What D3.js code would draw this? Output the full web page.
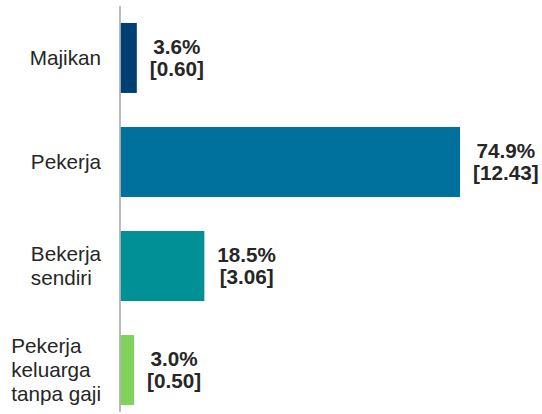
<!DOCTYPE html>
<html><head><meta charset="utf-8">
<script src="https://cdn.jsdelivr.net/npm/d3@7"></script>
<style>html,body{margin:0;padding:0;background:#fff}svg{display:block}</style>
</head><body>
<script>
const categories = [["Majikan"], ["Pekerja"], ["Bekerja", "sendiri"], ["Pekerja", "keluarga", "tanpa gaji"]];
const percents = [3.6, 74.9, 18.5, 3.0];
const millions = ["0.60", "12.43", "3.06", "0.50"];
const colors = ["#003f74", "#00709c", "#009096", "#7fd35b"];

const W = 542, H = 414;
const svg = d3.select("body").append("svg").attr("width", W).attr("height", H)
  .style("font-family", "'Liberation Sans', Arial, sans-serif");

const idx = d3.range(categories.length);
const x = d3.scaleLinear().domain([0, d3.max(percents)]).range([120.5, 460]);
const y = d3.scaleBand().domain(idx).range([6, 422]).paddingInner(0.327).paddingOuter(0.163);

svg.selectAll("rect.bar").data(idx).join("rect")
  .attr("x", x(0)).attr("y", i => y(i))
  .attr("width", i => x(percents[i]) - x(0)).attr("height", y.bandwidth())
  .attr("fill", i => colors[i]);

svg.append("line").attr("x1", 120).attr("x2", 120).attr("y1", 6).attr("y2", 412)
  .attr("stroke", "#a6a6a6").attr("stroke-width", 1.5);

const fs = 20.7, lhCat = 24, lhVal = 22, cap = 0.716 * fs;
const txtColor = "#262626";

// category labels
idx.forEach(i => {
  const lines = categories[i];
  const c = y(i) + y.bandwidth() / 2;
  const b1 = c - (lines.length - 1) * lhCat / 2 + cap / 2;
  const g = svg.append("g");
  const ts = lines.map((l, k) => g.append("text").attr("y", b1 + k * lhCat)
    .attr("font-size", fs).attr("fill", txtColor).text(l));
  const mw = d3.max(ts, t => t.node().getComputedTextLength());
  ts.forEach(t => t.attr("x", 101 - mw));
});

// value labels
idx.forEach(i => {
  const lines = [percents[i].toFixed(1) + "%", "[" + millions[i] + "]"];
  const c = y(i) + y.bandwidth() / 2;
  const b1 = c - lhVal / 2 + cap / 2;
  const g = svg.append("g");
  const ts = lines.map((l, k) => g.append("text").attr("y", b1 + k * lhVal)
    .attr("font-size", fs).attr("font-weight", "bold").attr("fill", txtColor)
    .attr("text-anchor", "middle").text(l));
  const mw = d3.max(ts, t => t.node().getComputedTextLength());
  ts.forEach(t => t.attr("x", x(percents[i]) + 13 + mw / 2));
});
</script>
</body></html>
